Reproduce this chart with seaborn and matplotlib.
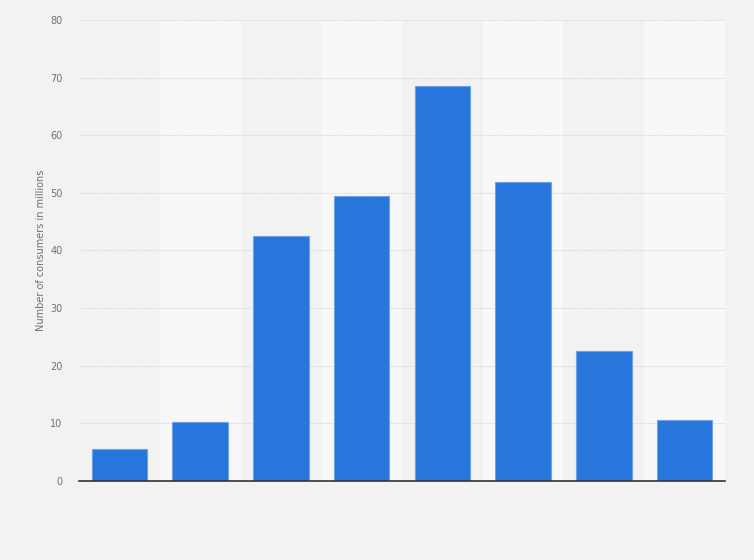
'''
plot.py

bar chart of consumers in millions per group
'''
import matplotlib
matplotlib.use("Agg")
import matplotlib.pyplot as plt
import seaborn as sns
import pandas as pd

# groups are not labelled in the picture
groups = ["g1", "g2", "g3", "g4", "g5", "g6", "g7", "g8"]
consumers = [5.6, 10.3, 42.5, 49.5, 68.6, 51.9, 22.6, 10.5]
y_ticks = [0, 10, 20, 30, 40, 50, 60, 70, 80]

df = pd.DataFrame({"group": groups, "consumers": consumers})

sns.set_theme(style="white")
plt.rcParams['font.family'] = ['DejaVu Sans']

fig = plt.figure(figsize=(7.54, 5.6), dpi=100, facecolor="#f2f2f2")
ax = fig.add_axes([0.1048, 0.1411, 0.8567, 0.8232])
ax.set_facecolor("#f2f2f2")

# alternating column shading
for i in range(len(groups)):
    if i % 2 == 1:
        ax.axvspan(i - 0.5, i + 0.5, color="#f8f8f8", zorder=0, lw=0)

sns.barplot(data=df, x="group", y="consumers", color="#2776dc", saturation=1,
            width=0.69, edgecolor="#6ea3ea", linewidth=0.8, ax=ax, zorder=3)

ax.set_xlim(-0.5, len(groups) - 0.5)
ax.set_ylim(0, 80)
ax.set_yticks(y_ticks)
ax.set_yticklabels([str(t) for t in y_ticks])
ax.tick_params(axis="y", length=0, pad=12, labelsize=7, labelcolor="#707070")
ax.tick_params(axis="x", length=0, labelbottom=False)
ax.set_xlabel("")
ax.set_ylabel("Number of consumers in millions", fontsize=7, color="#707070", labelpad=3)

ax.yaxis.grid(True, linestyle=(0, (1, 1)), color="#d6d6d6", linewidth=0.8, zorder=1)
ax.set_axisbelow(True)

for side in ["left", "right", "top"]:
    ax.spines[side].set_visible(False)
ax.spines["bottom"].set_color("#333333")
ax.spines["bottom"].set_linewidth(1.2)
ax.spines["bottom"].set_zorder(5)

fig.savefig("out.png", dpi=100, facecolor=fig.get_facecolor())
